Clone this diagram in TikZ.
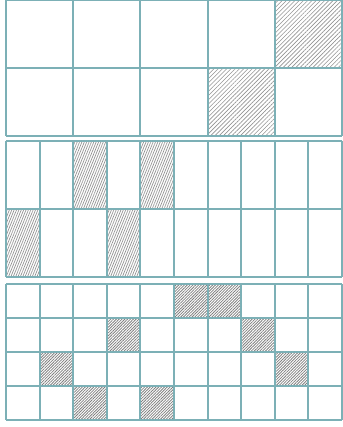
\documentclass[tikz,border=0pt]{standalone}
\usetikzlibrary{patterns.meta,calc}
\definecolor{gridteal}{RGB}{124,176,182}
\tikzset{
  gridline/.style={draw=gridteal, line width=1.9pt},
  hatchwide/.style={pattern={Lines[angle=45,distance=3pt,line width=0.6pt]}, pattern color=gray!85},
  hatchtall/.style={pattern={Lines[angle=68,distance=2.2pt,line width=0.7pt]}, pattern color=gray!85},
  hatchsmall/.style={pattern={Lines[angle=45,distance=2pt,line width=0.8pt]}, pattern color=gray}
}
\begin{document}
\begin{tikzpicture}[x=1pt, y=-1pt]
		\useasboundingbox (0,0) rectangle (342,427);
		\coordinate (topgrid) at (6,0.5);
		\coordinate (midgrid) at (6,141);
		\coordinate (lowgrid) at (6,284);
		% top: 5 x 2
		\fill [hatchwide] (274.8,0.5) rectangle (342,68);
		\fill [hatchwide] (207.6,68) rectangle (274.8,136);
		\foreach \i in {0,...,5}
			\draw [gridline] ($(topgrid)+(67.2*\i,0)$) -- ++(0,135.5);
		\foreach \j in {0,1,2}
			\draw [gridline] ($(topgrid)+(0,67.75*\j)$) -- ++(336,0);
		% middle: 10 x 2
		\foreach \c/\r in {2/0, 4/0, 0/1, 3/1}
			\fill [hatchtall] ($(midgrid)+(33.6*\c,68*\r)$) rectangle ++(33.6,68);
		\foreach \i in {0,...,10}
			\draw [gridline] ($(midgrid)+(33.6*\i,0)$) -- ++(0,136);
		\foreach \j in {0,1,2}
			\draw [gridline] ($(midgrid)+(0,68*\j)$) -- ++(336,0);
		% bottom: 10 x 4
		\foreach \c/\r in {5/0, 6/0, 3/1, 7/1, 1/2, 8/2, 2/3, 4/3}
			\fill [hatchsmall] ($(lowgrid)+(33.6*\c,34*\r)$) rectangle ++(33.6,34);
		\foreach \i in {0,...,10}
			\draw [gridline] ($(lowgrid)+(33.6*\i,0)$) -- ++(0,136);
		\foreach \j in {0,...,4}
			\draw [gridline] ($(lowgrid)+(0,34*\j)$) -- ++(336,0);
	\end{tikzpicture}
\end{document}
